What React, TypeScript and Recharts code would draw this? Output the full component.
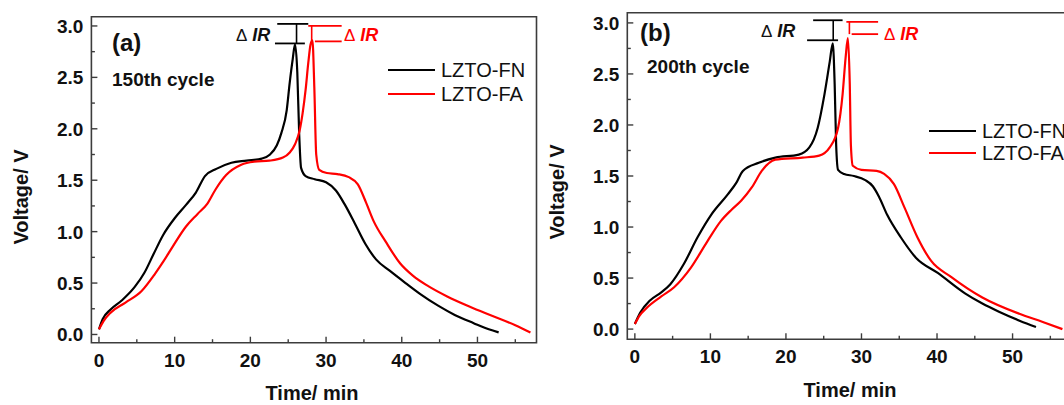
import React from 'react';
import { LineChart, Line, XAxis, YAxis, ReferenceLine, ReferenceArea } from 'recharts';

const FONT = '"Liberation Sans", Arial, Helvetica, sans-serif';
const FRAME = '#3c3c3c';

const seriesNames = ['LZTO-FN', 'LZTO-FA'];
const seriesColors = ['#000000', '#ff0000'];

const xTicks = [0, 5, 10, 15, 20, 25, 30, 35, 40, 45, 50, 55];
const xMajor = [0, 10, 20, 30, 40, 50];
const yTicks = [0, 0.25, 0.5, 0.75, 1, 1.25, 1.5, 1.75, 2, 2.25, 2.5, 2.75, 3];
const yMajor = [0, 0.5, 1, 1.5, 2, 2.5, 3];

// [time (min), voltage (V)]
const fn150: [number, number][] = [
  [0, 0.05], [0.5, 0.15], [1.5, 0.24], [3, 0.33], [4.7, 0.46], [6, 0.6], [7.2, 0.78], [8.5, 0.97],
  [10, 1.13], [11.5, 1.26], [12.8, 1.38], [14, 1.54], [15.5, 1.61], [17.5, 1.67], [19.5, 1.69],
  [21.5, 1.71], [22.6, 1.75], [23.5, 1.84], [24.1, 1.96], [24.8, 2.18], [25.2, 2.45], [25.6, 2.68],
  [25.9, 2.82], [26.2, 2.55], [26.45, 1.95], [26.7, 1.62], [27.3, 1.54], [28.5, 1.51], [30, 1.48],
  [31.3, 1.4], [32.5, 1.26], [33.8, 1.08], [35.2, 0.88], [36.6, 0.73], [38.4, 0.62], [40.5, 0.5],
  [42.5, 0.39], [44.8, 0.28], [47, 0.19], [49.5, 0.11], [51.5, 0.05], [52.8, 0.02],
];
const fa150: [number, number][] = [
  [0, 0.05], [0.6, 0.13], [1.5, 0.21], [3.5, 0.31], [5.6, 0.42], [7.4, 0.59], [8.6, 0.72], [9.7, 0.85],
  [11.5, 1.05], [13, 1.17], [14.3, 1.27], [15.4, 1.41], [16.8, 1.55], [18.8, 1.65], [20.5, 1.68],
  [22.5, 1.69], [24.3, 1.72], [25.2, 1.77], [25.9, 1.85], [26.5, 1.98], [26.9, 2.15], [27.3, 2.38],
  [27.65, 2.64], [27.95, 2.82], [28.2, 2.86], [28.45, 2.4], [28.7, 1.75], [29.1, 1.6], [30.1, 1.57],
  [31.5, 1.56], [33, 1.53], [34.2, 1.46], [35.3, 1.28], [36.3, 1.1], [37.9, 0.9], [39.8, 0.69],
  [41.5, 0.57], [43.5, 0.47], [46, 0.37], [49, 0.27], [52, 0.18], [55, 0.09], [57, 0.02],
];
const fn200: [number, number][] = [
  [0, 0.05], [0.7, 0.16], [2, 0.28], [3.5, 0.36], [4.7, 0.44], [6.5, 0.64], [8.3, 0.9], [10.1, 1.12],
  [12.3, 1.32], [13.4, 1.43], [14.3, 1.55], [16.4, 1.63], [18.6, 1.68], [21.7, 1.71], [23.1, 1.78],
  [24.2, 1.97], [25.1, 2.3], [25.8, 2.62], [26.2, 2.8], [26.45, 2.4], [26.65, 1.8], [26.9, 1.56],
  [27.7, 1.52], [29, 1.5], [30.5, 1.46], [31.5, 1.4], [32.3, 1.3], [33.4, 1.12], [35.2, 0.9],
  [37.2, 0.7], [40.1, 0.55], [43.7, 0.35], [46, 0.25], [48.2, 0.17], [51, 0.08], [53.1, 0.02],
];
const fa200: [number, number][] = [
  [0, 0.05], [0.6, 0.13], [1.6, 0.21], [3.5, 0.32], [5.2, 0.41], [7.4, 0.6], [9.6, 0.86], [11.4, 1.06],
  [12.8, 1.17], [14.1, 1.26], [15.5, 1.39], [16.8, 1.55], [18.6, 1.66], [22.2, 1.68], [24.4, 1.7],
  [25.8, 1.78], [26.9, 1.97], [27.5, 2.3], [27.9, 2.66], [28.2, 2.85], [28.45, 2.4], [28.6, 1.8],
  [28.85, 1.6], [30, 1.56], [32, 1.55], [33, 1.52], [34.3, 1.42], [35.7, 1.19], [37.4, 0.9],
  [39.2, 0.67], [41.9, 0.51], [46, 0.31], [50.9, 0.15], [54, 0.07], [56.6, 0.0],
];

// delta IR markers: [xStart, xEnd, voltage] for top and bottom bars, plus the vertical connector x
const ir150 = {
  fn: { top: [23.55, 27.65, 3.02], bottom: [23.25, 27.2, 2.83], stem: 26.1 },
  fa: { top: [27.65, 32.06, 3.0], bottom: [28.53, 32.06, 2.85], stem: 28.1 },
};
const ir200 = {
  fn: { top: [23.6, 27.5, 3.026], bottom: [22.8, 26.9, 2.83], stem: 26.26 },
  fa: { top: [28.0, 32.2, 3.01], bottom: [28.7, 32.2, 2.89], stem: 28.4 },
};

const toPoints = (arr: [number, number][]) => arr.map(([t, v]) => ({ t, v }));

const XTick = (props: any) => {
  const { x, y, payload } = props;
  const major = xMajor.includes(payload.value);
  return (
    <g>
      <line x1={x} x2={x} y1={y} y2={y - (major ? 6 : 3.5)} stroke={FRAME} strokeWidth={1.4} />
      {major && (
        <text x={x} y={y + 24} textAnchor="middle" fontFamily={FONT} fontWeight="bold" fontSize={19} fill="#111">
          {payload.value}
        </text>
      )}
    </g>
  );
};

const YTick = (props: any) => {
  const { x, y, payload } = props;
  const major = yMajor.includes(payload.value);
  return (
    <g>
      <line x1={x} x2={x + (major ? 6 : 3.5)} y1={y} y2={y} stroke={FRAME} strokeWidth={1.4} />
      {major && (
        <text x={x - 8} y={y + 7} textAnchor="end" fontFamily={FONT} fontWeight="bold" fontSize={19} fill="#111">
          {payload.value.toFixed(1)}
        </text>
      )}
    </g>
  );
};

const txt = (left: number, top: number, content: React.ReactNode, style: React.CSSProperties = {}) => (
  <div
    style={{
      position: 'absolute',
      left,
      top,
      transform: 'translateY(-50%)',
      lineHeight: 1,
      whiteSpace: 'nowrap',
      fontFamily: FONT,
      color: '#111',
      ...style,
    }}
  >
    {content}
  </div>
);

const DeltaIR = ({ color }: { color: string }) => (
  <span style={{ color, fontWeight: 'bold' }}>
    <span style={{ fontSize: 17, fontWeight: 'normal' }}>Δ</span>
    <span style={{ fontSize: 18, fontStyle: 'italic' }}> IR</span>
  </span>
);

interface PanelProps {
  left: number;
  width: number;
  margin: { top: number; right: number; bottom: number; left: number };
  xDomain: [number, number];
  yDomain: [number, number];
  fn: [number, number][];
  fa: [number, number][];
  ir: typeof ir150;
}

const Panel = ({ left, width, margin, xDomain, yDomain, fn, fa, ir }: PanelProps) => {
  const marks = [ir.fn, ir.fa];
  return (
    <div style={{ position: 'absolute', left, top: 0 }}>
      <LineChart width={width} height={380} margin={margin}>
        <XAxis
          type="number"
          dataKey="t"
          domain={xDomain}
          allowDataOverflow
          ticks={xTicks}
          interval={0}
          tickSize={0}
          tickMargin={0}
          axisLine={false}
          tickLine={false}
          height={30}
          tick={(p: any) => <XTick {...p} />}
        />
        <YAxis
          type="number"
          domain={yDomain}
          allowDataOverflow
          ticks={yTicks}
          interval={0}
          tickSize={0}
          tickMargin={0}
          axisLine={false}
          tickLine={false}
          width={50}
          tick={(p: any) => <YTick {...p} />}
        />
        <ReferenceArea
          x1={xDomain[0]}
          x2={xDomain[1]}
          y1={yDomain[0]}
          y2={yDomain[1]}
          fill="none"
          stroke={FRAME}
          strokeWidth={1.6}
          ifOverflow="visible"
        />
        {marks.map((m, i) => (
          <React.Fragment key={i}>
            <ReferenceLine
              segment={[{ x: m.top[0], y: m.top[2] }, { x: m.top[1], y: m.top[2] }]}
              stroke={seriesColors[i]}
              strokeWidth={1.8}
              ifOverflow="visible"
            />
            <ReferenceLine
              segment={[{ x: m.bottom[0], y: m.bottom[2] }, { x: m.bottom[1], y: m.bottom[2] }]}
              stroke={seriesColors[i]}
              strokeWidth={1.8}
              ifOverflow="visible"
            />
            <ReferenceLine
              segment={[{ x: m.stem, y: m.top[2] }, { x: m.stem, y: m.bottom[2] }]}
              stroke={seriesColors[i]}
              strokeWidth={1.6}
              ifOverflow="visible"
            />
          </React.Fragment>
        ))}
        <Line
          data={toPoints(fn)}
          dataKey="v"
          name={seriesNames[0]}
          type="monotone"
          stroke={seriesColors[0]}
          strokeWidth={2.2}
          dot={false}
          isAnimationActive={false}
        />
        <Line
          data={toPoints(fa)}
          dataKey="v"
          name={seriesNames[1]}
          type="monotone"
          stroke={seriesColors[1]}
          strokeWidth={2.2}
          dot={false}
          isAnimationActive={false}
        />
      </LineChart>
    </div>
  );
};

const Legend = ({ left, top, gap }: { left: number; top: number; gap: number }) => (
  <>
    {seriesNames.map((name, i) => (
      <React.Fragment key={name}>
        <div
          style={{
            position: 'absolute',
            left,
            top: top + i * gap - 1,
            width: 47,
            height: 2,
            background: seriesColors[i],
          }}
        />
        {txt(left + 53, top + i * gap, name, { fontSize: 20, color: '#111' })}
      </React.Fragment>
    ))}
  </>
);

export default function App() {
  return (
    <div
      style={{
        position: 'absolute',
        left: 0,
        top: 0,
        width: 1064,
        height: 405,
        overflow: 'hidden',
        background: '#fff',
      }}
    >
      <Panel
        left={0}
        width={540}
        margin={{ top: 16.7, right: 3.5, bottom: 7.3, left: 41.4 }}
        xDomain={[-1, 57.8]}
        yDomain={[-0.08, 3.09]}
        fn={fn150}
        fa={fa150}
        ir={ir150}
      />
      <Panel
        left={530}
        width={545}
        margin={{ top: 12.7, right: 2, bottom: 10.7, left: 47.3 }}
        xDomain={[-1, 58]}
        yDomain={[-0.1, 3.1]}
        fn={fn200}
        fa={fa200}
        ir={ir200}
      />

      {/* panel (a) text */}
      {txt(112, 43, '(a)', { fontSize: 24, fontWeight: 'bold' })}
      {txt(112, 79, '150th cycle', { fontSize: 19, fontWeight: 'bold' })}
      {txt(236, 35, <DeltaIR color="#111" />)}
      {txt(344, 35, <DeltaIR color="#ff0000" />)}
      <Legend left={388} top={70} gap={23.5} />
      {txt(312, 393, 'Time/ min', { fontSize: 20, fontWeight: 'bold', transform: 'translate(-50%, -50%)' })}
      {txt(21, 197, 'Voltage/ V', {
        fontSize: 20,
        fontWeight: 'bold',
        transform: 'translate(-50%, -50%) rotate(-90deg)',
      })}

      {/* panel (b) text */}
      {txt(640, 33, '(b)', { fontSize: 24, fontWeight: 'bold' })}
      {txt(647, 66, '200th cycle', { fontSize: 19, fontWeight: 'bold' })}
      {txt(761, 31, <DeltaIR color="#111" />)}
      {txt(884, 34, <DeltaIR color="#ff0000" />)}
      <Legend left={929} top={131} gap={22} />
      {txt(850, 390, 'Time/ min', { fontSize: 20, fontWeight: 'bold', transform: 'translate(-50%, -50%)' })}
      {txt(557, 192, 'Voltage/ V', {
        fontSize: 20,
        fontWeight: 'bold',
        transform: 'translate(-50%, -50%) rotate(-90deg)',
      })}
    </div>
  );
}
